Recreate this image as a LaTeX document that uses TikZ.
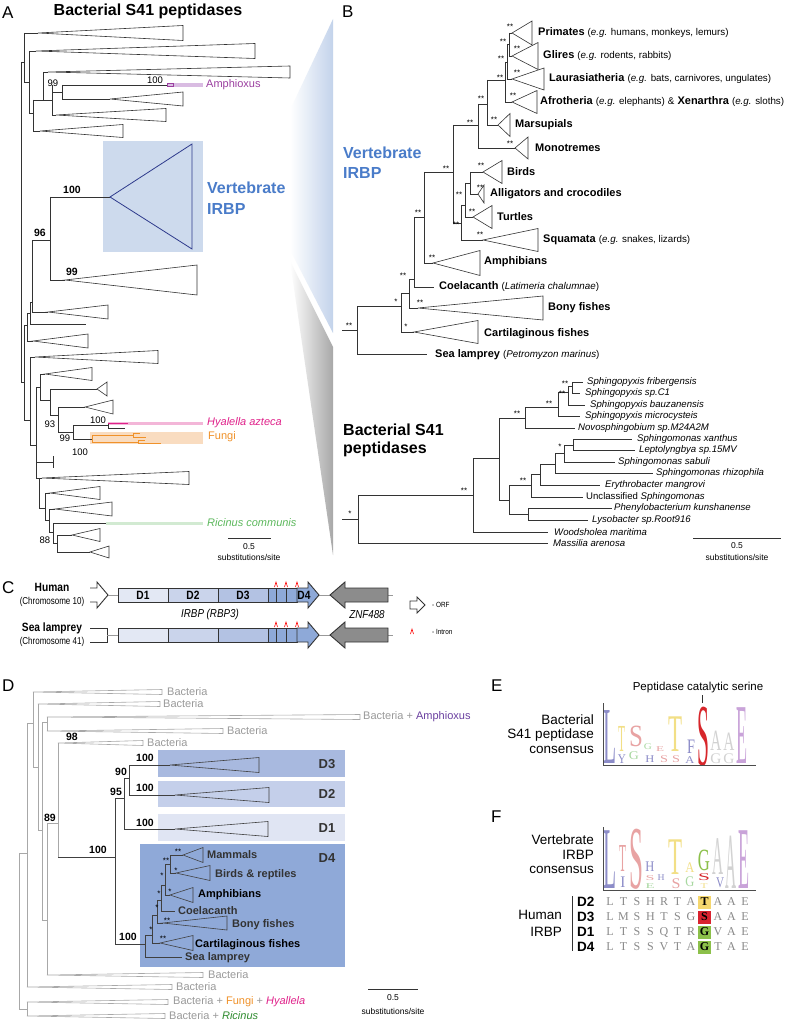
\documentclass[tikz,border=0pt]{standalone}
\usepackage{fontspec}
\setmainfont{Liberation Sans}
\newfontfamily\logofont{Liberation Serif}
\definecolor{vbox}{HTML}{CDDAED}
\definecolor{vtri}{HTML}{2E3A8C}
\definecolor{vblue}{HTML}{4A7CC9}
\definecolor{amph}{HTML}{9B3FA0}
\definecolor{amphbar}{HTML}{D9BCE2}
\definecolor{amph2}{HTML}{6A3FA0}
\definecolor{mag}{HTML}{E0218A}
\definecolor{pinkbar}{HTML}{F3B6D8}
\definecolor{orangeline}{HTML}{F0922A}
\definecolor{fungbox}{HTML}{F9DCC0}
\definecolor{greentext}{HTML}{5CB85C}
\definecolor{greenbar}{HTML}{D2EAD2}
\definecolor{green2}{HTML}{2E8B2E}
\definecolor{wedgeb}{HTML}{C3D3EB}
\definecolor{wedgeg}{HTML}{A8A8A8}
\definecolor{treegrey}{HTML}{A8A8A8}
\definecolor{textgrey}{HTML}{9A9A9A}
\definecolor{cD1}{HTML}{E3E8F4}
\definecolor{cD2}{HTML}{CAD4EB}
\definecolor{cD3}{HTML}{B3C2E3}
\definecolor{cD4}{HTML}{8EA9D8}
\definecolor{zgrey}{HTML}{8C8C8C}
\definecolor{dD1}{HTML}{E0E5F3}
\definecolor{dD2}{HTML}{C4CFEA}
\definecolor{dD3}{HTML}{A8B9DF}
\definecolor{dD4}{HTML}{8FA9D8}
\definecolor{lav}{HTML}{8C8CC8}
\definecolor{lyel}{HTML}{F2DF86}
\definecolor{lpink}{HTML}{E8A3A3}
\definecolor{lred}{HTML}{D7262B}
\definecolor{lgrey}{HTML}{D2D2D2}
\definecolor{lpur}{HTML}{C9A3D9}
\definecolor{lgreen}{HTML}{A8D8A0}
\definecolor{lgreen2}{HTML}{8CC04A}
\definecolor{hY}{HTML}{F5D76E}
\definecolor{hR}{HTML}{D9232F}
\definecolor{hG}{HTML}{8CC04A}
\definecolor{seqgrey}{HTML}{8A8A8A}
\newcounter{nd}
\newcommand\fs[1]{\fontsize{#1}{#1}\selectfont}
\newcommand\T[3][]{\stepcounter{nd}\node[lab,#1] (n\arabic{nd}) at (#2) {#3};}
\newcommand\tri[6][br]{\draw[#1] (#2,#3) -- (#4,#3); \draw[#1] (#4,#3) -- (#5,{#3-#6}) -- (#5,{#3+#6}) -- cycle;}
\newcommand\hl[4][br]{\draw[#1] (#2,#4) -- (#3,#4);}
\newcommand\vl[4][br]{\draw[#1] (#2,#3) -- (#2,#4);}
\newcommand\gt[3]{\draw[gbr] (#1,#2) -- (#3,{#2-2.5}) -- (#3,{#2+2.5}) -- cycle;}
\newcommand\LL[7]{\stepcounter{nd}\node[inner sep=0pt,anchor=base,text=#5,font=\logofont\fs{10},xscale={#4/#7},yscale={#3/6.8}] (n\arabic{nd}) at (#1,#2) {#6};}
\newcommand\pe[1]{{\fs{9.8}(\textit{e.g.} #1)}}
\newcommand\genebody{%
 \draw[gline] (108,595)--(118,595) (319,595)--(330,595) (388,595)--(393,595);
 \draw[gk,fill=cD1] (118,588) rectangle (168,602);
 \draw[gk,fill=cD2] (168,588) rectangle (218,602);
 \draw[gk,fill=cD3] (218,588) rectangle (268,602);
 \draw[gk,fill=cD4] (268,588) rectangle (276,602);
 \draw[gk,fill=cD4] (276,588) rectangle (286,602);
 \draw[gk,fill=cD4] (286,588) rectangle (297,602);
 \draw[gk,fill=cD4] (297,588)--(308,588)--(308,582)--(319,595)--(308,608)--(308,602)--(297,602)--cycle;
 \draw[gk,fill=zgrey] (388,588)--(345,588)--(345,582)--(330,595)--(345,608)--(345,602)--(388,602)--cycle;
 \foreach \xx in {276,286,297} \draw[red,line width=0.6pt] (\xx-1.5,587)--(\xx,582)--(\xx+1.5,587);
}
\begin{document}
\begin{tikzpicture}[x=1pt,y=-1pt,
 br/.style={line width=0.6pt,draw=black!80},
 gbr/.style={line width=0.6pt,draw=treegrey},
 dbr/.style={line width=0.6pt,draw=black!75},
 lab/.style={inner sep=0pt,anchor=west},
 star/.style={anchor=center,font=\fs{8}},
 bs/.style={anchor=center,font=\fs{9.5}},
 bb/.style={anchor=center,font=\bfseries\fs{10.5}},
 sp/.style={font=\itshape\fs{9.6}},
 cl/.style={font=\fs{11}},
 gk/.style={draw=black!80,line width=0.9pt},
 gline/.style={draw=black!40,line width=0.8pt},
 seq/.style={inner sep=0pt,anchor=center,font=\logofont\fs{12},text=seqgrey}]
\useasboundingbox (0,0) rectangle (785,1024);
\fill[white] (0,0) rectangle (785,1024);
% ---------------- wedges
\begin{scope}
\clip (290,110)--(333,19)--(333,333)--(290,250)--cycle;
\shade[left color=white,right color=wedgeb] (290,19) rectangle (333,333);
\end{scope}
\begin{scope}
\clip (290,261)--(333,347)--(333,555)--cycle;
\shade[left color=white,right color=wedgeg] (290,261) rectangle (333,555);
\end{scope}
% ---------------- A
\T[font=\fs{17}]{2,13}{A}
\T[anchor=center,font=\bfseries\fs{16}]{148,11}{Bacterial S41 peptidases}
\vl{21}{62}{382}
\hl{21}{24}{62}
\vl{24}{33}{82}
\tri{24}{33}{38}{183}{7.5}
\hl{24}{29}{82}
\vl{29}{51}{113}
\tri{29}{51}{36}{255}{7.5}
\hl{29}{33}{113}
\vl{33}{100}{131}
\tri{33}{131}{40}{123}{6.5}
\hl{33}{52}{100}
\vl{43}{72}{100}
\tri{43}{72}{48}{290}{6}
\vl{52}{85}{115}
\tri{52}{115}{56}{166}{6.5}
\hl{52}{62}{92}
\vl{62}{85}{99}
\fill[amphbar] (168,83.2) rectangle (203,86.8);
\hl{62}{168}{85}
\draw[amph,line width=0.6pt] (167,83.8) rectangle (173,86.2);
\tri{62}{99}{110}{183}{7}
\T[bs]{53,83}{99}
\T[bs]{155,80}{100}
\T[text=amph,font=\fs{11}]{206,85}{Amphioxus}
\fill[vbox] (103,141) rectangle (203,252);
\hl{50}{110}{197}
\draw[vtri,line width=0.8pt] (110,197)--(192,144)--(192,249)--cycle;
\T[bb]{72,190}{100}
\T[text=vblue,font=\bfseries\fs{16}]{207,188}{Vertebrate}
\T[text=vblue,font=\bfseries\fs{16}]{207,209}{IRBP}
\vl{50}{197}{280}
\T[bb]{40,233}{96}
\hl{32}{50}{240}
\tri{50}{280}{65}{197}{15}
\T[bb]{72,272}{99}
\vl{32}{240}{312}
\tri{32}{312}{48}{108}{7}
\hl{30}{32}{302}
\vl{30}{302}{324}
\hl{30}{86}{324}
\hl{27}{30}{313}
\vl{27}{313}{341}
\tri{27}{341}{33}{88}{7}
\hl{24}{27}{325}
\vl{24}{325}{420}
\hl{21}{24}{382}
\hl{24}{30}{420}
\vl{30}{357}{445}
\tri{30}{357}{35}{158}{6.5}
\vl{36}{387}{478}
\hl{36}{40}{387}
\hl{30}{36}{445}
\vl{40}{374}{400}
\tri{40}{374}{45}{92}{6.5}
\hl{40}{50}{400}
\vl{50}{389}{415}
\tri{50}{389}{97}{107}{7}
\hl{50}{58}{415}
\vl{58}{407}{432}
\tri{58}{407}{85}{113}{7}
\T[bs]{50,424}{93}
\hl{58}{73}{432}
\vl{73}{425}{439}
\fill[pinkbar] (108,422) rectangle (203,425);
\hl{73}{108}{425}
\draw[mag,line width=0.8pt] (108,423.5)--(128,423.5);
\draw[br] (108,423.5)--(108,428)--(125,428);
\T[bs]{98,420}{100}
\T[text=mag,font=\itshape\fs{11}]{207,423}{Hyalella azteca}
\T[bs]{65,438}{99}
\fill[fungbox] (90,432) rectangle (203,444);
\hl{73}{92}{439}
\draw[orangeline,line width=0.6pt] (92,435)--(92,442) (92,435)--(133,435) (133,433)--(133,437.5) (133,433)--(140,433) (133,437.5)--(146,437.5) (92,442)--(138,442) (138,440)--(138,443.5) (138,440)--(145,440) (138,443.5)--(161,443.5);
\T[bs]{80,452}{100}
\T[text=orangeline,font=\fs{11}]{208,437}{Fungi}
\hl{36}{53}{462}
\draw[br] (53,456)--(53,468);
\hl{36}{39}{478}
\vl{39}{478}{508}
\tri{39}{478}{42}{189}{6.5}
\hl{39}{45}{508}
\vl{45}{493}{520}
\tri{45}{493}{50}{100}{6.5}
\hl{45}{49}{520}
\vl{49}{509}{532}
\tri{49}{509}{55}{112}{7}
\hl{49}{53}{532}
\vl{53}{523}{543}
\fill[greenbar] (106,521.5) rectangle (203,524.5);
\hl{53}{106}{523}
\T[text=greentext,font=\itshape\fs{11}]{207,523}{Ricinus communis}
\hl{53}{57}{543}
\vl{57}{535}{552}
\T[bs]{45,540}{88}
\tri{57}{535}{72}{100}{6.5}
\tri{57}{552}{90}{109}{6}
\draw[br] (228,538)--(271,538);
\T[anchor=center,font=\fs{8.5}]{249,547}{0.5}
\T[anchor=center,font=\fs{8.5}]{249,557}{substitutions/site}
% ---------------- B
\T[font=\fs{17}]{342,12}{B}
\T[text=vblue,font=\bfseries\fs{16}]{343,153}{Vertebrate}
\T[text=vblue,font=\bfseries\fs{16}]{343,173}{IRBP}
\vl{509}{33}{56}
\tri{509}{33}{512}{532}{12}
\tri{509}{56}{512}{538}{13.5}
\hl{507}{509}{44}
\vl{507}{44}{79}
\tri{507}{79}{512}{544}{11}
\hl{505}{507}{62}
\vl{505}{62}{102}
\tri{505}{102}{512}{537}{11.5}
\hl{487}{505}{80}
\vl{487}{80}{125}
\tri{487}{125}{498}{510}{11.5}
\hl{478}{487}{104}
\vl{478}{104}{148}
\tri{478}{148}{515}{528}{11}
\hl{453}{478}{125}
\vl{453}{125}{223}
\hl{453}{461}{223}
\vl{461}{205}{240}
\hl{461}{465}{205}
\vl{465}{183}{217}
\hl{465}{470}{183}
\vl{470}{172}{194}
\tri{470}{172}{483}{502}{11.5}
\tri{470}{194}{478}{484}{9}
\tri{465}{217}{473}{492}{11.5}
\tri{461}{240}{483}{538}{11.5}
\hl{424}{453}{172}
\vl{424}{172}{263}
\tri{424}{263}{433}{480}{12.5}
\hl{414}{424}{217}
\vl{414}{217}{287}
\hl{414}{434}{287}
\hl{409}{414}{279}
\vl{409}{279}{308}
\tri{409}{308}{418}{543}{12}
\hl{401}{409}{293}
\vl{401}{293}{332}
\tri{401}{332}{414}{478}{11.5}
\hl{357}{401}{306}
\vl{357}{306}{354}
\hl{357}{427}{354}
\hl{342}{357}{330}
\T[star]{510,27}{**}
\T[star]{517,49}{**}
\T[star]{517,73}{**}
\T[star]{513,96}{**}
\T[star]{503,42}{**}
\T[star]{501,59}{**}
\T[star]{500,78}{**}
\T[star]{494,120}{**}
\T[star]{481,99}{**}
\T[star]{510,144}{**}
\T[star]{470,123}{**}
\T[star]{446,169}{**}
\T[star]{481,166}{**}
\T[star]{480,188}{**}
\T[star]{459,195}{**}
\T[star]{472,212}{**}
\T[star]{456,225}{**}
\T[star]{480,235}{**}
\T[star]{432,258}{**}
\T[star]{418,213}{**}
\T[star]{403,276}{**}
\T[star]{420,303}{**}
\T[star]{396,302}{*}
\T[star]{406,327}{*}
\T[star]{349,326}{**}
\T[cl]{538,33}{\textbf{Primates} \pe{humans, monkeys, lemurs}}
\T[cl]{543,56}{\textbf{Glires} \pe{rodents, rabbits}}
\T[cl]{549,79}{\textbf{Laurasiatheria} \pe{bats, carnivores, ungulates}}
\T[cl]{540,102}{\textbf{Afrotheria} \pe{elephants} {\fs{9.8}\&} \textbf{Xenarthra} \pe{sloths}}
\T[cl]{515,125}{\textbf{Marsupials}}
\T[cl]{535,148}{\textbf{Monotremes}}
\T[cl]{507,172}{\textbf{Birds}}
\T[cl]{490,194}{\textbf{Alligators and crocodiles}}
\T[cl]{497,217}{\textbf{Turtles}}
\T[cl]{543,240}{\textbf{Squamata} \pe{snakes, lizards}}
\T[cl]{484,262}{\textbf{Amphibians}}
\T[cl]{439,287}{\textbf{Coelacanth} {\fs{9.8}(\textit{Latimeria chalumnae})}}
\T[cl]{548,308}{\textbf{Bony fishes}}
\T[cl]{484,334}{\textbf{Cartilaginous fishes}}
\T[cl]{435,355}{\textbf{Sea lamprey} {\fs{9.8}(\textit{Petromyzon marinus})}}
\T[font=\bfseries\fs{16}]{343,430}{Bacterial S41}
\T[font=\bfseries\fs{16}]{343,449}{peptidases}
\hl{342}{358}{519}
\T[star]{350,514}{*}
\vl{358}{495}{543}
\hl{358}{548}{543}
\hl{358}{473}{495}
\T[star]{464,491}{**}
\vl{473}{458}{532}
\hl{473}{548}{532}
\hl{473}{499}{458}
\vl{499}{418}{500}
\hl{499}{525}{418}
\T[star]{517,414}{**}
\hl{499}{509}{500}
\vl{525}{407}{428}
\hl{525}{575}{428}
\hl{525}{558}{407}
\T[star]{549,404}{**}
\vl{558}{392}{416}
\hl{558}{580}{416}
\hl{558}{568}{392}
\T[star]{562,394}{**}
\vl{568}{386}{405}
\hl{568}{585}{405}
\hl{568}{572}{386}
\T[star]{565,384}{**}
\vl{572}{382}{393}
\hl{572}{583}{382}
\hl{572}{580}{393}
\vl{509}{485}{514}
\hl{509}{531}{485}
\T[star]{523,481}{**}
\hl{509}{528}{514}
\vl{531}{474}{497}
\hl{531}{583}{497}
\hl{531}{540}{474}
\vl{540}{464}{485}
\hl{540}{600}{485}
\hl{540}{555}{464}
\vl{555}{453}{473}
\hl{555}{653}{473}
\hl{555}{564}{453}
\T[star]{560,447}{*}
\vl{564}{445}{462}
\hl{564}{615}{462}
\hl{564}{573}{445}
\vl{573}{439}{450}
\hl{573}{632}{439}
\hl{573}{635}{450}
\vl{528}{508}{520}
\hl{528}{612}{508}
\hl{528}{588}{520}
\T[sp]{587,382}{Sphingopyxis fribergensis}
\T[sp]{585,393}{Sphingopyxis sp.C1}
\T[sp]{590,405}{Sphingopyxis bauzanensis}
\T[sp]{585,416}{Sphingopyxis microcysteis}
\T[sp]{578,428}{Novosphingobium sp.M24A2M}
\T[sp]{637,439}{Sphingomonas xanthus}
\T[sp]{639,450}{Leptolyngbya sp.15MV}
\T[sp]{618,462}{Sphingomonas sabuli}
\T[sp]{656,473}{Sphingomonas rhizophila}
\T[sp]{605,485}{Erythrobacter mangrovi}
\T[font=\fs{9.6}]{586,497}{Unclassified \textit{Sphingomonas}}
\T[sp]{614,508}{Phenylobacterium kunshanense}
\T[sp]{592,520}{Lysobacter sp.Root916}
\T[sp]{554,532}{Woodsholea maritima}
\T[sp]{553,543}{Massilia arenosa}
\draw[br] (693,538)--(781,538);
\T[anchor=center,font=\fs{8.5}]{737,546}{0.5}
\T[anchor=center,font=\fs{8.5}]{737,557}{substitutions/site}
% ---------------- C
\T[font=\fs{17}]{2,588}{C}
\T[anchor=center,font=\bfseries\fs{12},xscale=0.85]{52,587}{Human}
\T[anchor=center,font=\fs{10},xscale=0.8]{52,602}{(Chromosome 10)}
\T[anchor=center,font=\bfseries\fs{12},xscale=0.85]{52,628}{Sea lamprey}
\T[anchor=center,font=\fs{10},xscale=0.8]{52,642}{(Chromosome 41)}
\draw[gk,fill=white] (90,588)--(97,588)--(97,582)--(108,595)--(97,608)--(97,602)--(90,602);
\draw[gk] (90,628)--(107,628)--(107,642)--(90,642);
\genebody
\begin{scope}[shift={(0,40)}]
\genebody
\end{scope}
\draw[gline] (107,635)--(118,635);
\T[anchor=center,font=\bfseries\fs{12},xscale=0.85]{143,595}{D1}
\T[anchor=center,font=\bfseries\fs{12},xscale=0.85]{193,595}{D2}
\T[anchor=center,font=\bfseries\fs{12},xscale=0.85]{243,595}{D3}
\T[anchor=center,font=\bfseries\fs{12},xscale=0.85]{304,595}{D4}
\T[anchor=center,font=\itshape\fs{11.5},xscale=0.85]{210,615}{IRBP (RBP3)}
\T[anchor=center,font=\itshape\fs{11.5},xscale=0.85]{367,615}{ZNF488}
\draw[gk,fill=white,line width=0.8pt] (410,601)--(417,601)--(417,597)--(425,605)--(417,613)--(417,609)--(410,609)--cycle;
\T[font=\fs{7.5},xscale=0.85]{432,605}{- ORF}
\draw[red,line width=0.6pt] (410.5,634)--(412,629)--(413.5,634);
\T[font=\fs{7.5},xscale=0.85]{432,632}{- Intron}
% ---------------- D
\T[font=\fs{17}]{2,686}{D}
\fill[dD3] (158,750) rectangle (345,777);
\fill[dD2] (158,781) rectangle (345,807);
\fill[dD1] (158,814) rectangle (345,841);
\fill[dD4] (140,844) rectangle (345,967);
\vl[gbr]{19}{853}{1009}
\hl[gbr]{19}{27}{853}
\hl[gbr]{19}{27}{1009}
\vl[gbr]{27}{723}{987}
\vl[gbr]{27}{1002}{1016}
\hl[gbr]{27}{33}{723}
\vl[gbr]{33}{692}{767}
\hl[gbr]{33}{38}{767}
\vl[gbr]{38}{704}{830}
\hl[gbr]{38}{42}{830}
\vl[gbr]{42}{722}{920}
\hl[gbr]{42}{47}{722}
\vl[gbr]{47}{717}{731}
\hl[gbr]{42}{47}{920}
\vl[gbr]{47}{823}{975}
\hl[gbr]{47}{58}{823}
\vl[gbr]{58}{743}{857}
\gt{33}{692}{162}
\gt{38}{704}{160}
\gt{47}{717}{360}
\gt{47}{731}{223}
\gt{58}{743}{143}
\gt{47}{975}{203}
\gt{27}{987}{172}
\gt{27}{1002}{168}
\gt{27}{1016}{165}
\T[text=textgrey,font=\fs{11}]{167,692}{Bacteria}
\T[text=textgrey,font=\fs{11}]{163,704}{Bacteria}
\T[text=textgrey,font=\fs{11}]{363,717}{Bacteria + \textcolor{amph2}{Amphioxus}}
\T[text=textgrey,font=\fs{11}]{227,731}{Bacteria}
\T[text=textgrey,font=\fs{11}]{147,743}{Bacteria}
\T[text=textgrey,font=\fs{11}]{208,975}{Bacteria}
\T[text=textgrey,font=\fs{11}]{176,987}{Bacteria}
\T[text=textgrey,font=\fs{11}]{173,1002}{Bacteria + \textcolor{orangeline}{Fungi} + \textcolor{mag}{\textit{Hyallela}}}
\T[text=textgrey,font=\fs{11}]{169,1016}{Bacteria + \textcolor{green2}{\textit{Ricinus}}}
\T[bb]{72,737}{98}
\T[bb]{50,818}{89}
\hl[dbr]{58}{115}{857}
\T[bb]{98,850}{100}
\vl[dbr]{115}{798}{944}
\hl[dbr]{115}{124}{798}
\T[bb]{116,792}{95}
\vl[dbr]{124}{778}{829}
\hl[dbr]{124}{129}{778}
\T[bb]{121,772}{90}
\vl[dbr]{129}{765}{795}
\tri[dbr]{129}{765}{170}{259}{7.5}
\T[bb]{145,758}{100}
\tri[dbr]{129}{795}{175}{269}{7.5}
\T[bb]{145,788}{100}
\tri[dbr]{124}{829}{175}{268}{7.5}
\T[bb]{145,823}{100}
\hl[dbr]{115}{145}{944}
\T[bb]{128,937}{100}
\vl[dbr]{145}{935}{957}
\hl[dbr]{145}{182}{957}
\hl[dbr]{145}{152}{935}
\vl[dbr]{152}{915}{943}
\tri[dbr]{152}{943}{160}{193}{7.5}
\hl[dbr]{152}{157}{915}
\vl[dbr]{157}{900}{923}
\tri[dbr]{157}{923}{163}{227}{7}
\hl[dbr]{157}{161}{900}
\vl[dbr]{161}{885}{911}
\hl[dbr]{161}{175}{911}
\hl[dbr]{161}{165}{885}
\vl[dbr]{165}{864}{895}
\tri[dbr]{165}{895}{170}{193}{7.5}
\hl[dbr]{165}{170}{864}
\vl[dbr]{170}{855}{873}
\tri[dbr]{170}{855}{183}{203}{7.5}
\tri[dbr]{170}{873}{176}{210}{7.5}
\T[star]{178,852}{**}
\T[star]{166,861}{**}
\T[star]{176,871}{*}
\T[star]{162,876}{*}
\T[star]{170,892}{*}
\T[star]{159,894}{*}
\T[star]{157,908}{*}
\T[star]{167,921}{**}
\T[star]{151,930}{*}
\T[star]{163,939}{**}
\T[text=black!80,font=\bfseries\fs{11}]{207,855}{Mammals}
\T[text=black!80,font=\bfseries\fs{11}]{215,875}{Birds \& reptiles}
\T[text=black,font=\bfseries\fs{11}]{198,895}{Amphibians}
\T[text=black!80,font=\bfseries\fs{11}]{178,911}{Coelacanth}
\T[text=black!80,font=\bfseries\fs{11}]{232,925}{Bony fishes}
\T[text=black,font=\bfseries\fs{11}]{195,945}{Cartilaginous fishes}
\T[text=black!80,font=\bfseries\fs{11}]{185,958}{Sea lamprey}
\T[anchor=center,text=black!80,font=\bfseries\fs{13}]{327,764}{D3}
\T[anchor=center,text=black!80,font=\bfseries\fs{13}]{327,794}{D2}
\T[anchor=center,text=black!80,font=\bfseries\fs{13}]{327,828}{D1}
\T[anchor=center,text=black!80,font=\bfseries\fs{13}]{327,858}{D4}
\draw[br] (368,989)--(418,989);
\T[anchor=center,font=\fs{8.5}]{393,998}{0.5}
\T[anchor=center,font=\fs{8.5}]{393,1011}{substitutions/site}
% ---------------- E
\T[font=\fs{17}]{491,686}{E}
\T[anchor=east,font=\fs{13.5}]{594,720}{Bacterial}
\T[anchor=east,font=\fs{13.5}]{594,735}{S41 peptidase}
\T[anchor=east,font=\fs{13.5}]{594,750}{consensus}
\T[anchor=center,font=\fs{11.5}]{698,688}{Peptidase catalytic serine}
\draw[black!80,line width=0.8pt] (702,695)--(702,703);
\LL{610}{763}{55}{13}{lav}{L}{6.1}
\LL{622}{763}{9}{8}{lav}{Y}{7.2}
\LL{622}{751}{26}{7}{lyel}{T}{6.1}
\LL{636}{746}{21}{14}{lpink}{S}{5.6}
\LL{634}{759}{8}{10}{lgreen}{G}{7.2}
\LL{648}{749}{6}{8}{lgreen}{G}{7.2}
\LL{660}{751}{5}{8}{lpink}{E}{6.1}
\LL{650}{762}{7}{9}{lav}{H}{7.2}
\LL{664}{762}{7}{8}{lpink}{S}{5.6}
\LL{675}{751}{36}{14}{lyel}{T}{6.1}
\LL{676}{762}{7}{8}{lpink}{S}{5.6}
\LL{690}{763}{7}{9}{lav}{A}{7.2}
\LL{691}{753}{14}{8}{lav}{F}{5.6}
\LL{703}{765}{60}{12}{lred}{S}{5.6}
\LL{716}{750}{20}{11}{lgrey}{A}{7.2}
\LL{716}{763}{10}{11}{lgrey}{G}{7.2}
\LL{729}{750}{18}{11}{lgrey}{A}{7.2}
\LL{729}{763}{10}{11}{lgrey}{G}{7.2}
\LL{742}{763}{58}{11}{lpur}{E}{6.1}
\draw[black!70,line width=0.8pt] (603,703)--(603,765)--(756,765);
% ---------------- F
\T[font=\fs{17}]{491,817}{F}
\T[anchor=east,font=\fs{13.5}]{594,840}{Vertebrate}
\T[anchor=east,font=\fs{13.5}]{594,855}{IRBP}
\T[anchor=east,font=\fs{13.5}]{594,870}{consensus}
\LL{610}{888}{60}{13}{lav}{L}{6.1}
\LL{623}{871}{27}{7}{lpink}{T}{6.1}
\LL{623}{887}{11}{5}{lav}{I}{3.3}
\LL{636}{888}{61}{14}{lpink}{S}{5.6}
\LL{650}{871}{10}{9}{lav}{H}{7.2}
\LL{661}{880}{6}{7}{lav}{H}{7.2}
\LL{650}{880}{5}{9}{lpink}{S}{5.6}
\LL{650}{888}{5}{9}{lgreen}{E}{6.1}
\LL{676}{888}{10}{9}{lpink}{S}{5.6}
\LL{675}{874}{36}{14}{lyel}{T}{6.1}
\LL{690}{872}{10}{9}{lyel}{A}{7.2}
\LL{690}{886}{10}{9}{lgreen}{G}{7.2}
\LL{704}{870}{21}{12}{lgreen2}{G}{7.2}
\LL{704}{880}{7}{12}{lred}{S}{5.6}
\LL{704}{888}{5}{7}{lyel}{T}{6.1}
\LL{718}{874}{37}{11}{lgrey}{A}{7.2}
\LL{720}{887}{10}{8}{lav}{V}{7.2}
\LL{731.5}{888}{54}{11}{lgrey}{A}{7.2}
\LL{744}{888}{60}{11}{lpur}{E}{6.1}
\draw[black!70,line width=0.8pt] (603,827)--(603,890)--(756,890);
\T[anchor=east,font=\fs{13.5}]{562,915}{Human}
\T[anchor=east,font=\fs{13.5}]{562,932}{IRBP}
\draw[black!80,line width=0.8pt] (572,896)--(572,951);
\T[font=\bfseries\fs{13.5}]{577,902}{D2}
\T[font=\bfseries\fs{13.5}]{577,917}{D3}
\T[font=\bfseries\fs{13.5}]{577,932}{D1}
\T[font=\bfseries\fs{13.5}]{577,947}{D4}
\fill[hY] (698,895.5) rectangle (711,908.5);
\fill[hR] (698,910.5) rectangle (711,923.5);
\fill[hG] (698,925.5) rectangle (711,938.5);
\fill[hG] (698,940.5) rectangle (711,953.5);
\foreach \c [count=\i] in {L,T,S,H,R,T,A,T,A,A,E} {\ifnum\i=8\else\node[seq] (ra\i) at ({596.5+13.5*\i},902) {\c};\fi}
\foreach \c [count=\i] in {L,M,S,H,T,S,G,S,A,A,E} {\ifnum\i=8\else\node[seq] (rb\i) at ({596.5+13.5*\i},917) {\c};\fi}
\foreach \c [count=\i] in {L,T,S,S,Q,T,R,G,V,A,E} {\ifnum\i=8\else\node[seq] (rc\i) at ({596.5+13.5*\i},932) {\c};\fi}
\foreach \c [count=\i] in {L,T,S,S,V,T,A,G,T,A,E} {\ifnum\i=8\else\node[seq] (rd\i) at ({596.5+13.5*\i},947) {\c};\fi}
\node[seq,text=black,font=\logofont\bfseries\fs{12}] (ha) at (704.5,902) {T};
\node[seq,text=black,font=\logofont\bfseries\fs{12}] (hb) at (704.5,917) {S};
\node[seq,text=black,font=\logofont\bfseries\fs{12}] (hc) at (704.5,932) {G};
\node[seq,text=black,font=\logofont\bfseries\fs{12}] (hd) at (704.5,947) {G};
\end{tikzpicture}
\end{document}
